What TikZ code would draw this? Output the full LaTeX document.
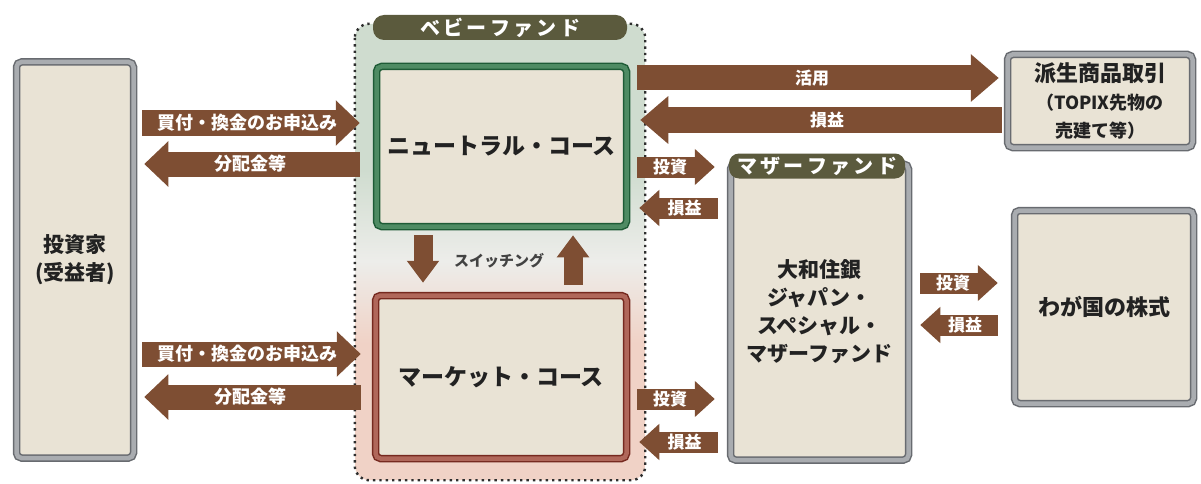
\documentclass[tikz,border=0pt]{standalone}
\usepackage{fontspec}
\setmainfont{Noto Sans CJK JP}
\usetikzlibrary{arrows.meta,calc,shadows}
\definecolor{boxfill}{HTML}{E9E3D5}
\definecolor{arrowc}{HTML}{7E4E33}
\definecolor{olive}{HTML}{5B5A3D}
\definecolor{greenbg}{HTML}{CFDCCF}
\definecolor{midbg}{HTML}{EDEDEA}
\definecolor{pinkbg}{HTML}{F0D2C6}
\definecolor{framegray}{HTML}{686B70}
\definecolor{framegrayl}{HTML}{A9ACB0}
\definecolor{frameg}{HTML}{1E5B36}
\definecolor{framegl}{HTML}{4E8B63}
\definecolor{framer}{HTML}{76291F}
\definecolor{framerl}{HTML}{B0675A}
\definecolor{txt}{HTML}{222222}
\definecolor{dotc}{HTML}{2E2E2E}
\pgfdeclareverticalshading{babyshade}{100bp}{color(0bp)=(pinkbg); color(40bp)=(pinkbg); color(49bp)=(midbg); color(59bp)=(greenbg); color(100bp)=(greenbg)}
\begin{document}
\begin{tikzpicture}[x=1pt,y=-1pt,
  box/.style={rectangle, rounded corners=5pt, fill=boxfill, draw=framegray, double=framegrayl,
    line width=1.5pt, double distance=4.5pt, text=txt, align=center, inner sep=0pt,
    font=\bfseries\fontsize{21}{28}\selectfont,
    drop shadow={shadow xshift=1pt, shadow yshift=-3pt, opacity=.3}},
  greenbox/.style={box, draw=frameg, double=framegl},
  redbox/.style={box, draw=framer, double=framerl},
  region/.style={rectangle, rounded corners=14pt, shading=babyshade, inner sep=0pt},
  dotline/.style={draw=dotc, line width=2.4pt, dash pattern=on 2.4pt off 4pt},
  tag/.style={rectangle, fill=olive, rounded corners=11pt, text=white, inner sep=0pt,
    font=\bfseries\fontsize{20}{20}\selectfont, minimum height=25pt},
  barrow/.style={draw=arrowc, line width=25pt, -{Triangle[width=44pt,length=24pt]}},
  warrow/.style={draw=arrowc, line width=25pt, -{Triangle[width=46pt,length=28pt]}},
  sarrow/.style={draw=arrowc, line width=21pt, -{Triangle[width=35pt,length=20pt]}},
  varrow/.style={draw=arrowc, line width=19pt, -{Triangle[width=31pt,length=22pt]}},
  blabel/.style={text=white, font=\bfseries\fontsize{18}{18}\selectfont, inner sep=0pt},
  slabel/.style={text=white, font=\bfseries\fontsize{17}{17}\selectfont, inner sep=0pt}
]
\useasboundingbox (0,0) rectangle (1201,484);

% baby fund region
\node[region, minimum width=290pt, minimum height=456pt] (baby) at (500,252) {};
\draw[dotline, rounded corners=14pt] (baby.north west) rectangle (baby.south east);
\node[tag, minimum width=254pt] (babytag) at (500,27.5) {ベ\,ビ\,ー\,フ\,ァ\,ン\,ド};

% boxes
\node[box, minimum width=117pt, minimum height=396pt, font=\bfseries\fontsize{21}{28}\selectfont] (inv) at (75,260) {投資家\\(受益者)};
\node[greenbox, minimum width=250pt, minimum height=160pt, font=\bfseries\fontsize{23}{28}\selectfont] (neu) at (501.5,146.5) {ニュートラル・コース};
\node[redbox, minimum width=251pt, minimum height=163pt, font=\bfseries\fontsize{23}{28}\selectfont] (mkt) at (501,377) {マーケット・コース};
\node[box, minimum width=178pt, minimum height=296pt] (mom) at (819.5,312) {大和住銀\\ジャパン・\\スペシャル・\\マザーファンド};
\node[tag, minimum width=176pt, rounded corners=10pt] (momtag) at (817,166) {マ\,ザ\,ー\,フ\,ァ\,ン\,ド};
\node[box, minimum width=185pt, minimum height=93pt] (der) at (1100,101)
  {\fontsize{22}{28}\selectfont 派生商品取引\\\fontsize{18}{24}\selectfont （TOPIX先物の\\\fontsize{18}{24}\selectfont 売建て等）};
\node[box, minimum width=179pt, minimum height=193pt, font=\bfseries\fontsize{22}{28}\selectfont] (stk) at (1104,307) {わが国の株式};

% level coordinates
\coordinate (ya) at (0,123);
\coordinate (yb) at (0,164);
\coordinate (yc) at (0,354);
\coordinate (yd) at (0,397);
\coordinate (ye) at (0,78);
\coordinate (yf) at (0,120);
\coordinate (yg) at (0,167);
\coordinate (yh) at (0,208);
\coordinate (yi) at (0,399);
\coordinate (yj) at (0,442);
\coordinate (yk) at (0,283);
\coordinate (yl) at (0,325);
\coordinate (xa) at (423,0);
\coordinate (xb) at (573,0);

% investor <-> neutral
\draw[barrow] ($(inv.east |- ya)+(8,0)$) -- ($(neu.west |- ya)+(-16,0)$)
  node[blabel, midway, xshift=-4pt] {買付・換金のお申込み};
\draw[barrow] ($(neu.west |- yb)+(-16,0)$) -- ($(inv.east |- yb)+(10,0)$)
  node[blabel, midway, xshift=-2pt] {分配金等};
% investor <-> market
\draw[barrow] ($(inv.east |- yc)+(8,0)$) -- ($(mkt.west |- yc)+(-14,0)$)
  node[blabel, midway, xshift=-4pt] {買付・換金のお申込み};
\draw[barrow] ($(mkt.west |- yd)+(-14,0)$) -- ($(inv.east |- yd)+(10,0)$)
  node[blabel, midway, xshift=-2pt] {分配金等};

% neutral <-> derivatives
\draw[warrow] ($(neu.east |- ye)+(10,0)$) -- ($(der.west |- ye)+(-8,0)$)
  node[blabel, midway, xshift=-6pt, font=\bfseries\fontsize{17}{17}\selectfont] {活用};
\draw[warrow] ($(der.west |- yf)+(-5,0)$) -- ($(neu.east |- yf)+(13,0)$)
  node[blabel, midway, xshift=6pt, font=\bfseries\fontsize{17}{17}\selectfont] {損益};

% courses <-> mother fund
\draw[sarrow] ($(neu.east |- yg)+(10,0)$) -- ($(mom.west |- yg)+(-15,0)$)
  node[slabel, midway, xshift=-6pt] {投資};
\draw[sarrow] ($(mom.west |- yh)+(-12,0)$) -- ($(neu.east |- yh)+(12,0)$)
  node[slabel, midway, xshift=6pt] {損益};
\draw[sarrow] ($(mkt.east |- yi)+(10,0)$) -- ($(mom.west |- yi)+(-15,0)$)
  node[slabel, midway, xshift=-6pt] {投資};
\draw[sarrow] ($(mom.west |- yj)+(-12,0)$) -- ($(mkt.east |- yj)+(12,0)$)
  node[slabel, midway, xshift=6pt] {損益};

% mother fund <-> stocks
\draw[sarrow] ($(mom.east |- yk)+(11,0)$) -- ($(stk.west |- yk)+(-16,0)$)
  node[slabel, midway, xshift=-6pt] {投資};
\draw[sarrow] ($(stk.west |- yl)+(-16,0)$) -- ($(mom.east |- yl)+(11,0)$)
  node[slabel, midway, xshift=6pt] {損益};

% switching
\draw[varrow] ($(neu.south -| xa)+(0,8)$) -- ($(mkt.north -| xa)+(0,-12)$);
\draw[varrow] ($(mkt.north -| xb)+(0,-10)$) -- ($(neu.south -| xb)+(0,8)$);
\node[text=txt!85, font=\bfseries\fontsize{15}{15}\selectfont, inner sep=0pt] (sw) at (499,261) {スイッチング};
\end{tikzpicture}
\end{document}
